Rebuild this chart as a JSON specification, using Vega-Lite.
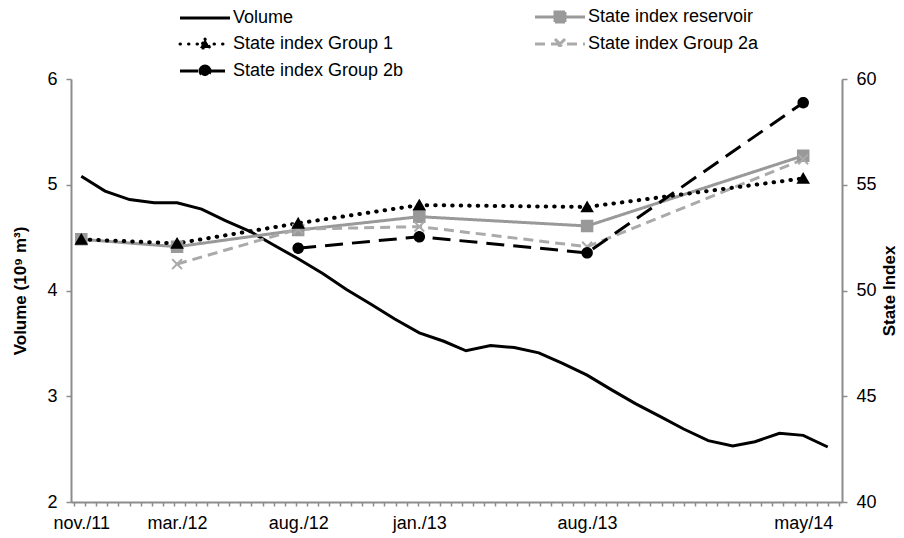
{
  "$schema": "https://vega.github.io/schema/vega-lite/v6.json",
  "width": 771,
  "height": 423,
  "autosize": {"type": "none"},
  "padding": {"left": 71, "top": 79, "right": 62, "bottom": 36},
  "background": "white",
  "config": {
    "view": {"stroke": null},
    "font": "Liberation Sans",
    "axis": {
      "labelFont": "Liberation Sans",
      "titleFont": "Liberation Sans",
      "labelFontSize": 18,
      "labelColor": "#000000",
      "domainColor": "#8c8c8c",
      "domainWidth": 2,
      "tickColor": "#8c8c8c",
      "tickWidth": 1.5,
      "grid": false,
      "titleFontSize": 17,
      "titleColor": "#000000",
      "titleFontWeight": "bold"
    }
  },
  "datasets": {
    "volume": [
      {"date": "2011-11-01", "volume": 5.08},
      {"date": "2011-12-01", "volume": 4.94},
      {"date": "2012-01-01", "volume": 4.86},
      {"date": "2012-02-01", "volume": 4.83},
      {"date": "2012-03-01", "volume": 4.83},
      {"date": "2012-04-01", "volume": 4.77},
      {"date": "2012-05-01", "volume": 4.66},
      {"date": "2012-06-01", "volume": 4.56},
      {"date": "2012-07-01", "volume": 4.43},
      {"date": "2012-08-01", "volume": 4.30},
      {"date": "2012-09-01", "volume": 4.16},
      {"date": "2012-10-01", "volume": 4.01},
      {"date": "2012-11-01", "volume": 3.87},
      {"date": "2012-12-01", "volume": 3.73},
      {"date": "2013-01-01", "volume": 3.60},
      {"date": "2013-02-01", "volume": 3.52},
      {"date": "2013-03-01", "volume": 3.43},
      {"date": "2013-04-01", "volume": 3.48},
      {"date": "2013-05-01", "volume": 3.46},
      {"date": "2013-06-01", "volume": 3.41},
      {"date": "2013-07-01", "volume": 3.31},
      {"date": "2013-08-01", "volume": 3.20},
      {"date": "2013-09-01", "volume": 3.06},
      {"date": "2013-10-01", "volume": 2.93},
      {"date": "2013-11-01", "volume": 2.81},
      {"date": "2013-12-01", "volume": 2.69},
      {"date": "2014-01-01", "volume": 2.58},
      {"date": "2014-02-01", "volume": 2.53},
      {"date": "2014-03-01", "volume": 2.57},
      {"date": "2014-04-01", "volume": 2.65},
      {"date": "2014-05-01", "volume": 2.63},
      {"date": "2014-06-01", "volume": 2.52}
    ],
    "state": [
      {"date": "2011-11-01", "series": "State index reservoir", "index": 52.42},
      {"date": "2012-03-01", "series": "State index reservoir", "index": 52.07},
      {"date": "2012-08-01", "series": "State index reservoir", "index": 52.86},
      {"date": "2013-01-01", "series": "State index reservoir", "index": 53.49},
      {"date": "2013-08-01", "series": "State index reservoir", "index": 53.05},
      {"date": "2014-05-01", "series": "State index reservoir", "index": 56.37},
      {"date": "2012-03-01", "series": "State index Group 2a", "index": 51.25},
      {"date": "2012-08-01", "series": "State index Group 2a", "index": 52.9},
      {"date": "2013-01-01", "series": "State index Group 2a", "index": 53.02},
      {"date": "2013-08-01", "series": "State index Group 2a", "index": 52.07},
      {"date": "2014-05-01", "series": "State index Group 2a", "index": 56.2},
      {"date": "2012-08-01", "series": "State index Group 2b", "index": 52.0},
      {"date": "2013-01-01", "series": "State index Group 2b", "index": 52.54},
      {"date": "2013-08-01", "series": "State index Group 2b", "index": 51.78},
      {"date": "2014-05-01", "series": "State index Group 2b", "index": 58.88},
      {"date": "2011-11-01", "series": "State index Group 1", "index": 52.42},
      {"date": "2012-03-01", "series": "State index Group 1", "index": 52.23},
      {"date": "2012-08-01", "series": "State index Group 1", "index": 53.18},
      {"date": "2013-01-01", "series": "State index Group 1", "index": 54.04},
      {"date": "2013-08-01", "series": "State index Group 1", "index": 53.95},
      {"date": "2014-05-01", "series": "State index Group 1", "index": 55.3}
    ]
  },
  "layer": [
    {
      "data": {"name": "volume"},
      "mark": {"type": "line", "stroke": "#000000", "strokeWidth": 3},
      "encoding": {
        "x": {
          "field": "date",
          "type": "temporal",
          "scale": {
            "type": "utc",
            "domain": [
              {"year": 2011, "month": 10, "date": 19, "utc": true},
              {"year": 2014, "month": 6, "date": 19, "utc": true}
            ]
          },
          "axis": {
            "title": null,
            "values": [
              {"year": 2011, "month": 11, "date": 1, "utc": true},
              {"year": 2012, "month": 3, "date": 1, "utc": true},
              {"year": 2012, "month": 8, "date": 1, "utc": true},
              {"year": 2013, "month": 1, "date": 1, "utc": true},
              {"year": 2013, "month": 8, "date": 1, "utc": true},
              {"year": 2014, "month": 5, "date": 1, "utc": true}
            ],
            "labelExpr": "lower(utcFormat(datum.value, '%b')) + (utcFormat(datum.value, '%b') == 'May' ? '' : '.') + '/' + utcFormat(datum.value, '%y')",
            "ticks": false,
            "domain": false,
            "labelPadding": 12,
            "labelFlush": false,
            "labelOverlap": false,
            "labelBound": false
          }
        },
        "y": {
          "field": "volume",
          "type": "quantitative",
          "scale": {"domain": [2, 6], "nice": false, "zero": false},
          "axis": {
            "orient": "left",
            "values": [2, 3, 4, 5, 6],
            "title": "Volume (10⁹ m³)",
            "tickSize": 5,
            "labelPadding": 9,
            "titlePadding": 17
          }
        }
      }
    },
    {
      "data": {"name": "state"},
      "encoding": {
        "x": {
          "field": "date",
          "type": "temporal",
          "scale": {
            "type": "utc",
            "domain": [
              {"year": 2011, "month": 10, "date": 19, "utc": true},
              {"year": 2014, "month": 6, "date": 19, "utc": true}
            ]
          },
          "axis": {
            "orient": "bottom",
            "title": null,
            "labels": false,
            "tickCount": {"interval": "week", "step": 2},
            "tickSize": 4,
            "domain": true
          }
        },
        "y": {
          "field": "index",
          "type": "quantitative",
          "scale": {"domain": [40, 60], "nice": false, "zero": false},
          "axis": {
            "orient": "right",
            "values": [40, 45, 50, 55, 60],
            "title": "State Index",
            "titleAngle": -90,
            "tickSize": 5,
            "labelPadding": 9,
            "titlePadding": 22
          }
        },
        "color": {
          "field": "series",
          "type": "nominal",
          "scale": {
            "domain": ["Volume", "State index reservoir", "State index Group 1", "State index Group 2a", "State index Group 2b"],
            "range": ["#000000", "#999999", "#000000", "#aaaaaa", "#000000"]
          },
          "legend": {
            "title": null,
            "orient": "none",
            "legendX": 109,
            "legendY": -71,
            "columns": 2,
            "direction": "horizontal",
            "columnPadding": 125,
            "rowPadding": 5,
            "padding": 0,
            "labelFont": "Liberation Sans",
            "labelFontSize": 18,
            "labelColor": "#000000",
            "labelLimit": 0,
            "symbolSize": 4,
            "symbolStrokeWidth": 3,
            "symbolOffset": 16,
            "labelOffset": 19,
            "encode": {
              "symbols": {
                "update": {
                  "shape": {"signal": "datum.value === 'Volume' ? 'M-25,0H25' : datum.value === 'State index reservoir' ? 'M-25,0H25M-5,-5H5V5H-5Z' : datum.value === 'State index Group 1' ? 'M-25,0H25M0,-5L5,4H-5Z' : datum.value === 'State index Group 2a' ? 'M-25,0H25M-5,-5L5,5M5,-5L-5,5' : 'M-25,0H25M-5,0A5,5,0,1,1,5,0A5,5,0,1,1,-5,0Z'"},
                  "stroke": {"signal": "datum.value === 'State index reservoir' ? '#999999' : datum.value === 'State index Group 2a' ? '#aaaaaa' : '#000000'"},
                  "fill": {"signal": "datum.value === 'State index reservoir' ? '#999999' : datum.value === 'State index Group 2a' ? '#aaaaaa' : '#000000'"},
                  "strokeDash": {"signal": "datum.value === 'State index Group 1' ? [0.5, 7] : datum.value === 'State index Group 2a' ? [10, 5] : datum.value === 'State index Group 2b' ? [16, 8] : [1, 0]"},
                  "strokeCap": {"signal": "datum.value === 'State index Group 1' ? 'round' : 'butt'"},
                  "opacity": {"value": 1}
                }
              }
            }
          }
        },
        "strokeDash": {
          "field": "series",
          "type": "nominal",
          "scale": {
            "domain": ["Volume", "State index reservoir", "State index Group 1", "State index Group 2a", "State index Group 2b"],
            "range": [[1, 0], [1, 0], [0.5, 8], [10, 6], [18, 9]]
          },
          "legend": null
        }
      },
      "layer": [
        {
          "transform": [{"filter": "datum.series !== 'State index Group 1'"}],
          "mark": {"type": "line", "strokeWidth": 3}
        },
        {
          "transform": [{"filter": "datum.series === 'State index Group 1'"}],
          "mark": {"type": "line", "strokeWidth": 4, "strokeCap": "round"}
        },
        {
          "mark": {"type": "point", "filled": true, "opacity": 1, "strokeWidth": 2},
          "encoding": {
            "strokeDash": {"value": [1, 0]},
            "shape": {
              "field": "series",
              "type": "nominal",
              "scale": {
                "domain": ["State index reservoir", "State index Group 1", "State index Group 2a", "State index Group 2b"],
                "range": ["square", "triangle-up", "M-1,-1L1,1M1,-1L-1,1", "circle"]
              },
              "legend": null
            },
            "size": {
              "field": "series",
              "type": "nominal",
              "scale": {
                "domain": ["State index reservoir", "State index Group 1", "State index Group 2a", "State index Group 2b"],
                "range": [110, 90, 160, 90]
              },
              "legend": null
            },
            "stroke": {
              "field": "series",
              "type": "nominal",
              "scale": {
                "domain": ["State index reservoir", "State index Group 1", "State index Group 2a", "State index Group 2b"],
                "range": ["#999999", "#000000", "#aaaaaa", "#000000"]
              },
              "legend": null
            }
          }
        }
      ]
    }
  ],
  "resolve": {"scale": {"y": "independent"}, "axis": {"x": "independent", "y": "independent"}}
}
